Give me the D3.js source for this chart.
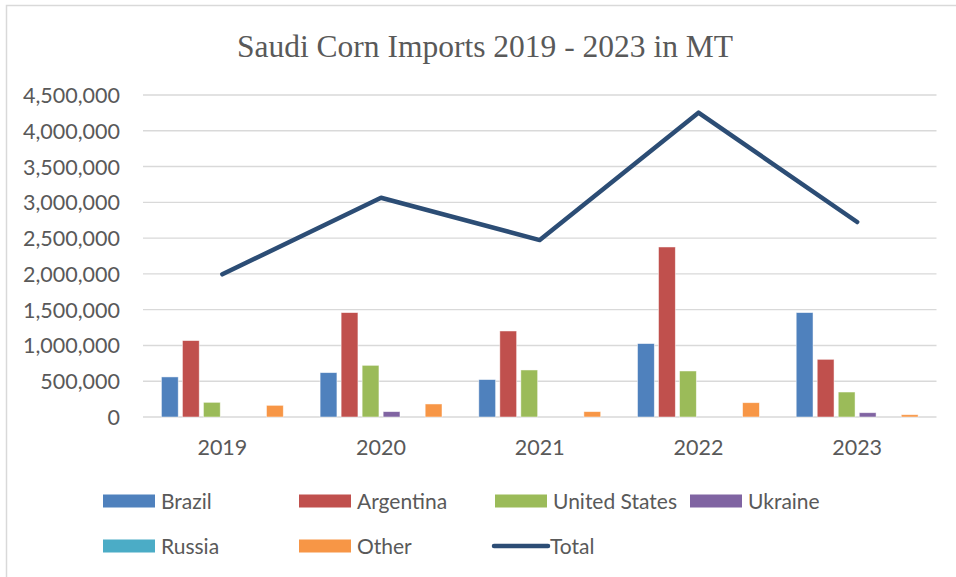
<!DOCTYPE html>
<html><head><meta charset="utf-8">
<script src="https://cdn.jsdelivr.net/npm/d3@7"></script>
<style>html,body{margin:0;padding:0;background:#fff;}svg{display:block;}</style>
</head><body>
<svg id="chart" width="956" height="577"></svg>
<script>
const years = ["2019", "2020", "2021", "2022", "2023"];
const seriesNames = ["Brazil", "Argentina", "United States", "Ukraine", "Russia", "Other"];
const brazil = [560000, 620000, 523000, 1026000, 1459000];
const argentina = [1068000, 1459000, 1202000, 2376000, 806000];
const unitedStates = [205000, 722000, 657000, 643000, 349000];
const ukraine = [0, 75000, 0, 0, 60000];
const russia = [0, 0, 0, 0, 0];
const other = [163000, 182000, 75000, 200000, 32000];
const total = [1994000, 3064000, 2472000, 4253000, 2725000];
const yTicks = [0, 500000, 1000000, 1500000, 2000000, 2500000, 3000000, 3500000, 4000000, 4500000];
const colors = ["#4f81bd", "#c0504d", "#9bbb59", "#8064a2", "#4bacc6", "#f79646"];
const totalColor = "#2c4d75";
const titleText = "Saudi Corn Imports 2019 - 2023 in MT";

const seriesValues = [brazil, argentina, unitedStates, ukraine, russia, other];
const svg = d3.select("#chart");
const font = "Lato, 'Open Sans', sans-serif";

// outer border (top and left visible)
svg.append("path").attr("d", "M6.5,960 V5.5 H960").attr("fill", "none")
  .attr("stroke", "#d9d9d9").attr("stroke-width", 1.5);

const plot = {left: 143, right: 936.5, top: 95, bottom: 417};
const y = d3.scaleLinear().domain([0, 4500000]).range([plot.bottom, plot.top]);
const x0 = d3.scaleBand().domain(years).range([plot.left, plot.right]).padding(0);
const bw = x0.bandwidth();
const x1 = d3.scaleBand().domain(seriesNames).range([bw * 0.116, bw * 0.884]).paddingInner(0.2);

// gridlines
svg.append("g").selectAll("line").data(yTicks).join("line")
  .attr("x1", plot.left).attr("x2", plot.right)
  .attr("y1", d => y(d)).attr("y2", d => y(d))
  .attr("stroke", "#d9d9d9").attr("stroke-width", 1.4);

// y axis labels
const yAxis = d3.axisLeft(y).tickValues(yTicks).tickSize(0).tickPadding(0)
  .tickFormat(d3.format(","));
const gy = svg.append("g").attr("transform", "translate(120,0)").call(yAxis);
gy.select(".domain").remove();
gy.selectAll("text").attr("font-family", font).attr("font-size", 21.5).attr("fill", "#595959").attr("dy", "0.35em");

// x axis labels
const xAxis = d3.axisBottom(x0).tickSize(0).tickPadding(0);
const gx = svg.append("g").attr("transform", `translate(0,${plot.bottom})`).call(xAxis);
gx.select(".domain").remove();
gx.selectAll("text").attr("font-family", font).attr("font-size", 21.5).attr("fill", "#595959")
  .attr("y", 38).attr("dy", "0");

// bars
const barData = [];
years.forEach((yr, i) => seriesNames.forEach((s, j) => barData.push({yr, s, j, v: seriesValues[j][i]})));
svg.append("g").selectAll("rect").data(barData.filter(d => d.v > 0)).join("rect")
  .attr("x", d => x0(d.yr) + x1(d.s))
  .attr("width", x1.bandwidth())
  .attr("y", d => y(d.v))
  .attr("height", d => y(0) - y(d.v))
  .attr("fill", d => colors[d.j])
  .attr("stroke", "#ffffff").attr("stroke-opacity", 0.6).attr("stroke-width", 0.8);

// total line
const line = d3.line().x((d, i) => x0(years[i]) + bw / 2).y(d => y(d));
svg.append("path").datum(total).attr("d", line).attr("fill", "none")
  .attr("stroke", totalColor).attr("stroke-width", 4.5)
  .attr("stroke-linejoin", "round").attr("stroke-linecap", "round");

// title
svg.append("text").attr("x", 485).attr("y", 57).attr("text-anchor", "middle")
  .attr("font-family", "'Liberation Serif', 'Times New Roman', serif").attr("font-size", 31.5)
  .attr("fill", "#595959").text(titleText);

// legend
const legendItems = seriesNames.map((s, j) => ({name: s, color: colors[j], type: "rect"}))
  .concat([{name: "Total", color: totalColor, type: "line"}]);
const legendPos = [[103, 501], [299, 501], [495, 501], [690, 501], [103, 546], [299, 546], [493, 546]];
const lg = svg.append("g").selectAll("g").data(legendItems).join("g")
  .attr("transform", (d, i) => `translate(${legendPos[i][0]},${legendPos[i][1]})`);
lg.filter(d => d.type === "rect").append("rect").attr("x", 0).attr("y", -6.5).attr("width", 52).attr("height", 13)
  .attr("fill", d => d.color);
lg.filter(d => d.type === "line").append("line").attr("x1", 1).attr("x2", 55).attr("y1", 0).attr("y2", 0)
  .attr("stroke", d => d.color).attr("stroke-width", 4.5).attr("stroke-linecap", "round");
lg.append("text").attr("x", d => d.type === "line" ? 57 : 58).attr("y", 0).attr("dy", "0.36em")
  .attr("font-family", font).attr("font-size", 21).attr("fill", "#595959").text(d => d.name);
</script>
</body></html>
